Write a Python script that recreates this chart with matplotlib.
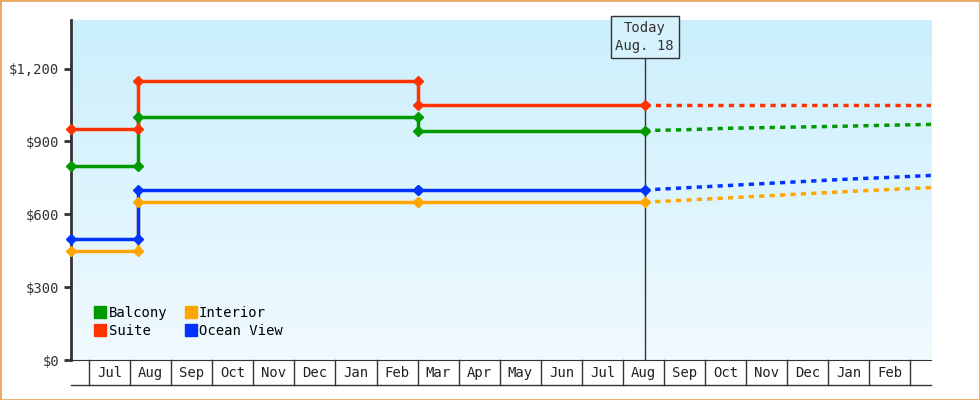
import matplotlib.pyplot as plt
import numpy as np
from matplotlib.transforms import blended_transform_factory

plt.rcParams["font.family"] = "DejaVu Sans Mono"

MONTHS = ["Jul", "Aug", "Sep", "Oct", "Nov", "Dec", "Jan", "Feb", "Mar", "Apr",
          "May", "Jun", "Jul", "Aug", "Sep", "Oct", "Nov", "Dec", "Jan", "Feb"]

# x in months since Jul 1
step_x = [-0.44, 1.2, 1.2, 8.0, 8.0, 13.53]
balcony = [800, 800, 1000, 1000, 945, 945]
suite = [950, 950, 1150, 1150, 1050, 1050]
interior = [450, 450, 650, 650, 650, 650]
ocean = [500, 500, 700, 700, 700, 700]

fc_x = [13.53, 14.5, 15.5, 16.5, 17.5, 18.5, 19.5, 20.5]
fc_balcony = [945, 948, 954, 957, 960, 963, 967, 970]
fc_suite = [1050, 1050, 1050, 1050, 1050, 1050, 1050, 1050]
fc_interior = [650, 658, 667, 676, 685, 694, 702, 710]
fc_ocean = [700, 709, 718, 727, 736, 745, 752, 760]

series = [("Balcony", "#009900", balcony, fc_balcony),
          ("Suite", "#ff3300", suite, fc_suite),
          ("Interior", "#ffa500", interior, fc_interior),
          ("Ocean View", "#0033ff", ocean, fc_ocean)]

fig = plt.figure(figsize=(9.8, 4.0), dpi=100)
fig.patches.append(plt.Rectangle((0, 0), 1, 1, transform=fig.transFigure,
                                 fill=False, edgecolor="#e8a860", linewidth=2))
ax = fig.add_axes([71 / 980, 40 / 400, 860 / 980, 340 / 400])
xmin, xmax = -0.44, 20.5
ax.set_xlim(xmin, xmax)
ax.set_ylim(0, 1400)

grad = np.linspace(1, 0, 100).reshape(-1, 1)
ax.imshow(grad, extent=[xmin, xmax, 0, 1400], aspect="auto", zorder=0,
          cmap=plt.matplotlib.colors.LinearSegmentedColormap.from_list("g", ["#f0faff", "#cbeffc"]))

for name, color, vals, fc in series:
    ax.plot(step_x, vals, color=color, lw=2.5, zorder=3)
    ax.plot(step_x[1:], vals[1:], "D", color=color, ms=5, zorder=4)
    ax.plot(step_x[0], vals[0], "D", color=color, ms=5, zorder=4, clip_on=False)
    ax.plot(fc_x, fc, color=color, lw=2.5, ls=(0, (1.5, 1.5)), zorder=3)
    ax.plot([], [], "s", color=color, ms=9, label=name)

today = 13.53
ax.axvline(today, color="#333333", lw=1, zorder=2)
ax.text(today, 1330, "Today\nAug. 18", ha="center", va="center", fontsize=10, color="#333333",
        linespacing=1.4, zorder=5,
        bbox=dict(boxstyle="square,pad=0.35", fc="#d6f2fc", ec="#333333", lw=1), clip_on=False)

ax.set_yticks([0, 300, 600, 900, 1200])
ax.set_yticklabels(["$0", "$300", "$600", "$900", "$1,200"], fontsize=10, color="#333333")
ax.set_xticks([])
for s in ["top", "right"]:
    ax.spines[s].set_visible(False)
ax.spines["left"].set_linewidth(2)
ax.spines["left"].set_color("#333333")
ax.spines["bottom"].set_color("#333333")
ax.tick_params(axis="y", length=5, width=2, color="#333333")

# month cells under the axis
tr = blended_transform_factory(ax.transData, ax.transAxes)
ax.plot([xmin, xmax], [-0.073, -0.073], color="#333333", lw=1, transform=tr, clip_on=False)
for i, m in enumerate(MONTHS):
    ax.plot([i, i], [0, -0.073], color="#333333", lw=1, transform=tr, clip_on=False)
    ax.text(i + 0.5, -0.037, m, ha="center", va="center", fontsize=10, color="#222222",
            transform=tr)
ax.plot([len(MONTHS)] * 2, [0, -0.073], color="#333333", lw=1, transform=tr, clip_on=False)

ax.legend(loc="lower left", ncol=2, frameon=False, fontsize=10, handletextpad=0.1,
          columnspacing=1.2, handlelength=1, labelspacing=0.3, borderaxespad=1.2,
          bbox_to_anchor=(0.0, 0.0))

fig.savefig("out.png")
